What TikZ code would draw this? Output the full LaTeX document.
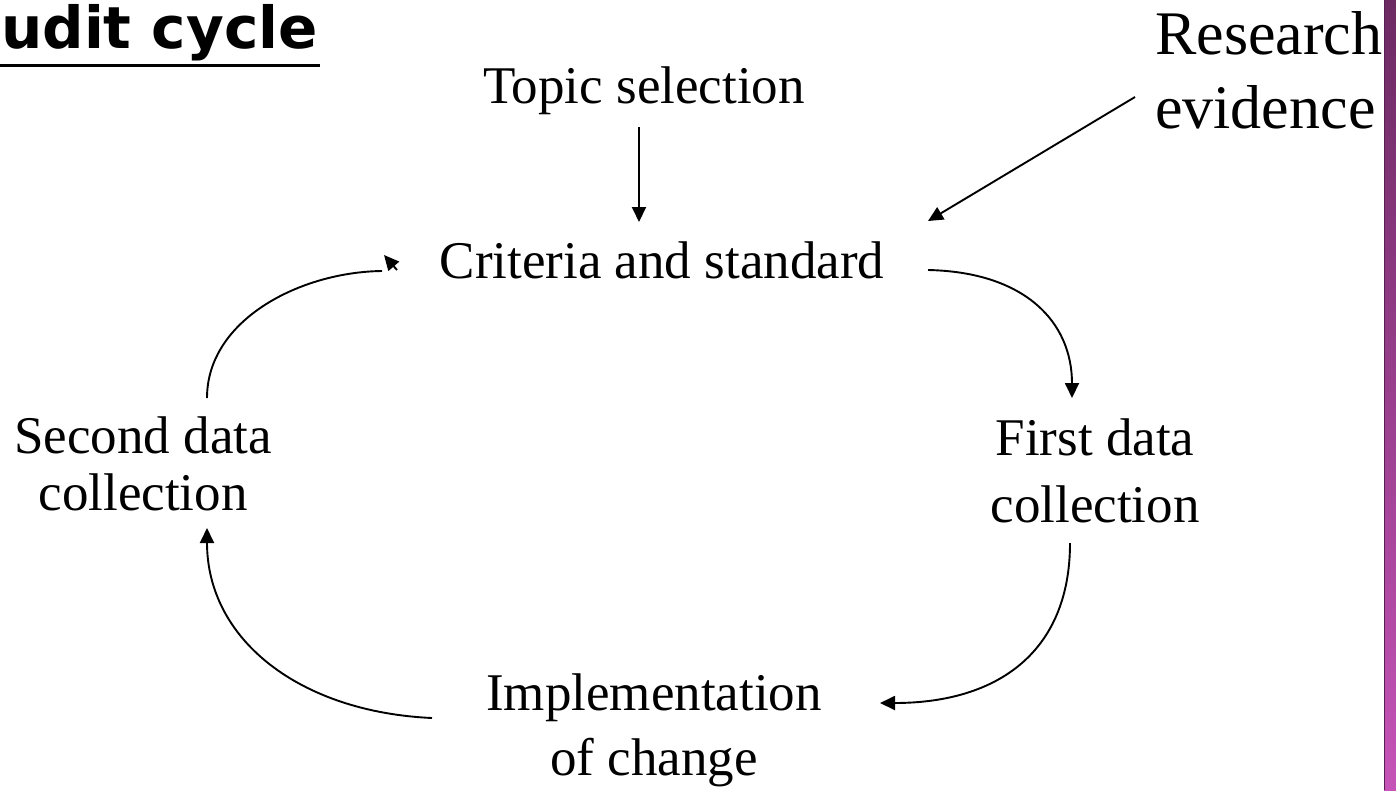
\documentclass[tikz,border=0pt]{standalone}
\usepackage{fontspec}
\setmainfont{Liberation Serif}
\newfontfamily\titlefont{DejaVu Sans}
\usetikzlibrary{arrows.meta}
\definecolor{purpTop}{HTML}{6C2A62}
\definecolor{purpBot}{HTML}{C654B8}
\definecolor{purpEdge}{HTML}{5A1F52}
\begin{document}
\begin{tikzpicture}[x=1pt,y=-1pt,
  lbl/.style={inner sep=0pt, anchor=base, align=center},
  conn/.style={line width=1.9pt, -{Triangle[length=15pt,width=14pt]}},
  plain/.style={line width=1.9pt}]
\useasboundingbox (0,0) rectangle (1396,790);
\fill[white] (0,0) rectangle (1396,790);

% title
\node[anchor=base west, inner sep=0pt] (title) at (1,48)
  {\titlefont\bfseries\fontsize{58}{60}\selectfont udit cycle};
\draw[line width=3pt] (0,65) -- (320,65);

% labels (multi-line nodes: base = baseline of last line)
\node[lbl, font=\fontsize{53}{58}\selectfont] (topic) at (644,103) {Topic selection};
\node[lbl, font=\fontsize{53}{58}\selectfont] (crit) at (662,278) {Criteria and standard};
\node[inner sep=0pt, anchor=base west, align=left, font=\fontsize{62}{74}\selectfont] (research) at (1155,128) {Research\\evidence};
\node[lbl, font=\fontsize{53}{57}\selectfont] (second) at (143,510) {Second data\\collection};
\node[lbl, font=\fontsize{53}{67}\selectfont] (first) at (1095,522) {First data\\collection};
\node[lbl, font=\fontsize{53}{65}\selectfont] (impl) at (654,775) {Implementation\\of change};

% connector end points
\coordinate (t1) at (639,127);
\coordinate (t2) at (639,222);
\coordinate (r1) at (1135,97);
\coordinate (r2) at (928,221);
\coordinate (a1) at (928,270);
\coordinate (a2) at (1072,398);
\coordinate (b1) at (1070,543);
\coordinate (b2) at (880,703);
\coordinate (d1) at (432,718);
\coordinate (d2) at (207,528);
\coordinate (e1) at (207,398);
\coordinate (e2) at (382,271);
\coordinate (e3) at (397,270);
\coordinate (e4) at (384,255);

% connectors
\draw[conn] (t1) -- (t2);
\draw[conn] (r1) -- (r2);
\draw[conn] (a1) .. controls (1025,272) and (1072,322) .. (a2);
\draw[conn] (b1) .. controls (1070,650) and (1000,703) .. (b2);
\draw[conn] (d1) .. controls (300,712) and (207,640) .. (d2);
\draw[plain] (e1) .. controls (207,320) and (300,272) .. (e2);
\draw[conn] (e3) -- (e4);

% side bar
\shade[top color=purpTop, bottom color=purpBot] (1384,0) rectangle (1396,790);
\draw[purpEdge, line width=1.2pt] (1384.6,0) -- (1384.6,790);
\end{tikzpicture}
\end{document}
